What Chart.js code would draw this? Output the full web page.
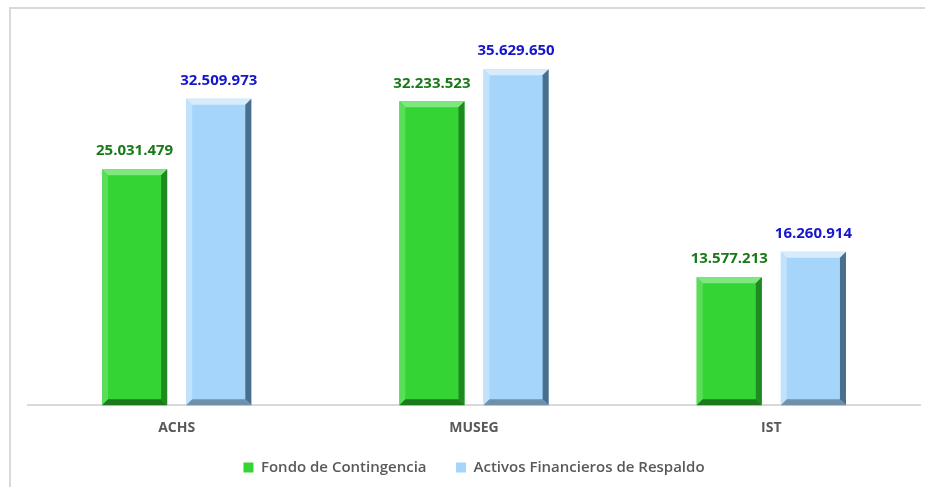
<!DOCTYPE html>
<html lang="es">
<head>
  <meta charset="UTF-8">
  <title>Fondo de Contingencia</title>
  <script src="https://cdn.jsdelivr.net/npm/chart.js"></script>
  <style>
    html, body { margin: 0; padding: 0; background: #fff; overflow: hidden; }
    #wrap { position: relative; width: 925px; height: 487px; }
    #frame { position: absolute; left: 9px; top: 7px; width: 1000px; height: 1000px; border: 2px solid #d9d9d9; }
    canvas { position: absolute; left: 0; top: 0; }
  </style>
</head>
<body>
  <div id="wrap">
    <div id="frame"></div>
    <canvas id="chart" width="925" height="487"></canvas>
  </div>

  <script>
    // data
    const categories = ['ACHS', 'MUSEG', 'IST'];
    const fondo = [25031479, 32233523, 13577213];
    const activos = [32509973, 35629650, 16260914];
    const seriesNames = ['Fondo de Contingencia', 'Activos Financieros de Respaldo'];

    const fmt = v => String(v).replace(/\B(?=(\d{3})+(?!\d))/g, '.');

    // bevel look like the office chart
    const bevelPlugin = {
      id: 'bevel',
      afterDatasetsDraw(chart) {
        const ctx = chart.ctx;
        chart.data.datasets.forEach((ds, i) => {
          const meta = chart.getDatasetMeta(i);
          meta.data.forEach(bar => {
            const l = bar.x - bar.width / 2, r = bar.x + bar.width / 2;
            const t = bar.y, b = bar.base, s = 6;
            ctx.save();
            // top
            ctx.fillStyle = ds.bevel.top;
            ctx.beginPath(); ctx.moveTo(l, t); ctx.lineTo(r, t); ctx.lineTo(r - s, t + s); ctx.lineTo(l + s, t + s); ctx.closePath(); ctx.fill();
            // left
            ctx.fillStyle = ds.bevel.left;
            ctx.beginPath(); ctx.moveTo(l, t); ctx.lineTo(l + s, t + s); ctx.lineTo(l + s, b - s); ctx.lineTo(l, b); ctx.closePath(); ctx.fill();
            // right
            ctx.fillStyle = ds.bevel.right;
            ctx.beginPath(); ctx.moveTo(r, t); ctx.lineTo(r - s, t + s); ctx.lineTo(r - s, b - s); ctx.lineTo(r, b); ctx.closePath(); ctx.fill();
            // bottom
            ctx.fillStyle = ds.bevel.bottom;
            ctx.beginPath(); ctx.moveTo(l, b); ctx.lineTo(l + s, b - s); ctx.lineTo(r - s, b - s); ctx.lineTo(r, b); ctx.closePath(); ctx.fill();
            ctx.restore();
          });
        });
      }
    };

    // value labels above the bars
    const valueLabels = {
      id: 'valueLabels',
      afterDatasetsDraw(chart) {
        const ctx = chart.ctx;
        ctx.save();
        ctx.font = 'bold 15px "Open Sans", sans-serif';
        ctx.textAlign = 'center';
        ctx.textBaseline = 'middle';
        chart.data.datasets.forEach((ds, i) => {
          ctx.fillStyle = ds.labelColor;
          chart.getDatasetMeta(i).data.forEach((bar, j) => {
            ctx.fillText(fmt(ds.data[j]), bar.x, bar.y - 18);
          });
        });
        ctx.restore();
      }
    };

    new Chart(document.getElementById('chart'), {
      type: 'bar',
      data: {
        labels: categories,
        datasets: [{
          label: seriesNames[0],
          data: fondo,
          backgroundColor: '#35d435',
          labelColor: '#177a17',
          bevel: { top: '#7ee87e', left: '#5ade5a', right: '#1f8a1f', bottom: '#1c7a1c' }
        }, {
          label: seriesNames[1],
          data: activos,
          backgroundColor: '#a6d5fb',
          labelColor: '#1515cc',
          bevel: { top: '#d6ecfd', left: '#c2e2fc', right: '#4a6f8e', bottom: '#6f8fab' }
        }]
      },
      options: {
        responsive: false,
        animation: false,
        barPercentage: 0.774,
        categoryPercentage: 0.566,
        layout: { padding: { left: 28, right: 5, top: 28, bottom: 2 } },
        scales: {
          x: {
            grid: { display: false, drawTicks: false },
            border: { color: '#d9d9d9', width: 2 },
            ticks: { color: '#595959', font: { family: '"Open Sans", sans-serif', size: 14, weight: 'bold' }, padding: 14 }
          },
          y: { display: false, min: 0, max: 40000000 }
        },
        plugins: {
          legend: {
            position: 'bottom',
            labels: {
              boxWidth: 10, boxHeight: 10, padding: 10,
              color: '#595959',
              font: { family: '"Open Sans", sans-serif', size: 15, weight: '600' },
              generateLabels(chart) {
                const items = Chart.defaults.plugins.legend.labels.generateLabels(chart);
                // extra room between the two entries
                items[0].text = items[0].text + '     ';
                return items;
              }
            }
          },
          tooltip: { enabled: false }
        }
      },
      plugins: [bevelPlugin, valueLabels]
    });
  </script>
</body>
</html>
